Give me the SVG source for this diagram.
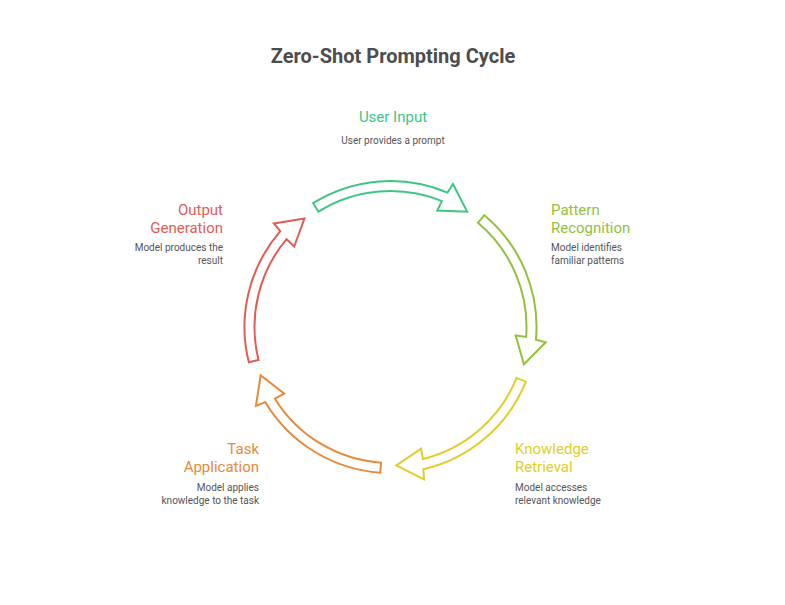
<svg xmlns="http://www.w3.org/2000/svg" width="785" height="605" viewBox="0 0 785 605">
<defs>
<style>
.title{font-family:Roboto,"Liberation Sans",sans-serif;font-size:20px;font-weight:bold;fill:#4d4d4d}
.h{font-family:Roboto,"Liberation Sans",sans-serif;font-size:15px}
.d{font-family:Roboto,"Liberation Sans",sans-serif;font-size:10px;fill:#555555}
.arrow{fill:#ffffff;stroke-width:2;stroke-linejoin:miter}
</style>
<path id="arr" d="M146,0 A146,146 0 0 1 83.74,119.6 L88.14,128.72 L57.22,126.13 L73.94,101.4 L79.56,110.31 A136,136 0 0 0 136,0 Z"/>
</defs>
<rect width="785" height="605" fill="#ffffff"/>
<text class="title" x="393" y="63" text-anchor="middle">Zero-Shot Prompting Cycle</text>
<g id="connectors">
<use href="#arr" class="arrow" stroke="#3dc584" transform="translate(390.5,327) rotate(-122)"/>
<use href="#arr" class="arrow" stroke="#93c13e" transform="translate(390.5,327) rotate(-50)"/>
<use href="#arr" class="arrow" stroke="#e2cd27" transform="translate(390.5,327) rotate(22)"/>
<use href="#arr" class="arrow" stroke="#e68a3a" transform="translate(390.5,327) rotate(94)"/>
<use href="#arr" class="arrow" stroke="#e35b54" transform="translate(390.5,327) rotate(166)"/>
</g>
<g id="user-input">
<text class="h" x="393" y="121.5" text-anchor="middle" fill="#3dc584">User Input</text>
<text class="d" x="393" y="143.5" text-anchor="middle">User provides a prompt</text>
</g>
<g id="pattern-recognition">
<text class="h" x="551" y="214.5" fill="#93c13e">Pattern</text>
<text class="h" x="551" y="232.5" fill="#93c13e">Recognition</text>
<text class="d" x="551" y="250.5">Model identifies</text>
<text class="d" x="551" y="263.5">familiar patterns</text>
</g>
<g id="knowledge-retrieval">
<text class="h" x="515" y="453.5" fill="#e2cd27">Knowledge</text>
<text class="h" x="515" y="471.5" fill="#e2cd27">Retrieval</text>
<text class="d" x="515" y="490.5">Model accesses</text>
<text class="d" x="515" y="503.5">relevant knowledge</text>
</g>
<g id="task-application">
<text class="h" x="259" y="453.5" text-anchor="end" fill="#e68a3a">Task</text>
<text class="h" x="259" y="471.5" text-anchor="end" fill="#e68a3a">Application</text>
<text class="d" x="259" y="490.5" text-anchor="end">Model applies</text>
<text class="d" x="259" y="503.5" text-anchor="end">knowledge to the task</text>
</g>
<g id="output-generation">
<text class="h" x="223" y="214.5" text-anchor="end" fill="#e35b54">Output</text>
<text class="h" x="223" y="232.5" text-anchor="end" fill="#e35b54">Generation</text>
<text class="d" x="223" y="250.5" text-anchor="end">Model produces the</text>
<text class="d" x="223" y="263.5" text-anchor="end">result</text>
</g>
</svg>
